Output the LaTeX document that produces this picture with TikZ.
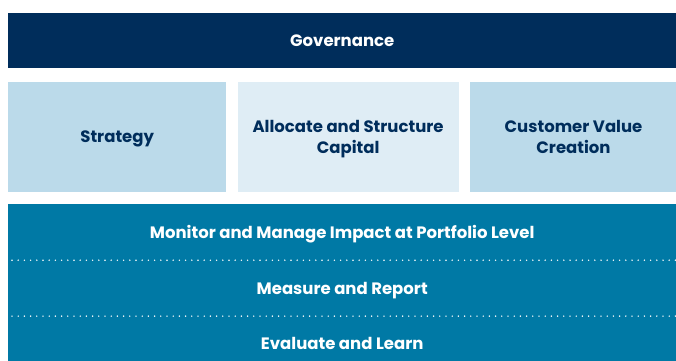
\documentclass[tikz,border=0pt]{standalone}
\usepackage{fontspec}
\setmainfont{Poppins}
\usetikzlibrary{positioning}
\definecolor{GovNavy}{HTML}{002D5B}
\definecolor{PillarBlue}{HTML}{BBDAEA}
\definecolor{PillarPale}{HTML}{DFEDF5}
\definecolor{BandTeal}{HTML}{0079A5}

\begin{document}
\begin{tikzpicture}[x=1pt, y=1pt, font=\bfseries\fontsize{16.5}{21}\selectfont,
  every node/.style={text depth=0pt},
  bar/.style={fill=GovNavy, text=white, minimum width=668pt, minimum height=55pt,
              inner sep=0pt, anchor=north west},
  pillar/.style={fill=PillarBlue, text=GovNavy, minimum height=110pt, inner sep=0pt,
                 align=center},
  layer/.style={fill=BandTeal, text=white, minimum width=668pt, minimum height=56pt,
                inner sep=0pt},
  sep/.style={white, line width=1.6pt, line cap=round, dash pattern=on 0pt off 6.2pt}]
\useasboundingbox (0,0) rectangle (676,-360);
\clip (0,0) rectangle (676,-360);
\node[bar] (gov) at (8,-13) {Governance};
\node[pillar, minimum width=218pt, below=13pt of gov.south west, anchor=north west] (strat) {Strategy};
\node[pillar, fill=PillarPale, minimum width=221pt, right=11pt of strat] (alloc) {Allocate and Structure\\Capital};
\node[pillar, minimum width=207pt, right=11pt of alloc] (cust) {Customer Value\\Creation};
\node[layer, below=12pt of strat.south west, anchor=north west] (monitor) {Monitor and Manage Impact at Portfolio Level};
\node[layer, below=-0.5pt of monitor] (measure) {Measure and Report};
\node[layer, below=-0.5pt of measure] (evaluate) {Evaluate and Learn};
\draw[sep] ([xshift=4pt]monitor.south west) -- (monitor.south east);
\draw[sep] ([xshift=4pt]measure.south west) -- (measure.south east);
\end{tikzpicture}
\end{document}
